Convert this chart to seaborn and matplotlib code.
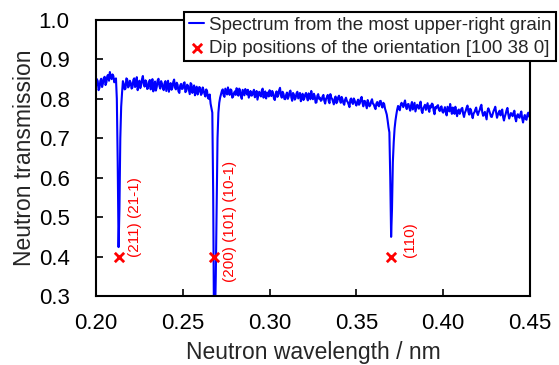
import numpy as np
import pandas as pd
import matplotlib
matplotlib.use("Agg")
import matplotlib.pyplot as plt
import seaborn as sns

# ---- data -------------------------------------------------------------
# samples on the 0.001 nm grid (0.200 ... 0.450)
wl_start = 0.200
wl_step = 0.001
transmission = [
    0.832, 0.845, 0.828, 0.851, 0.839, 0.856, 0.842, 0.861, 0.868, 0.850,  # 0.200
    0.858, 0.846, 0.800, 0.424, 0.700, 0.815, 0.838, 0.826, 0.849, 0.833,  # 0.210
    0.841, 0.829, 0.852, 0.837, 0.822, 0.846, 0.835, 0.858, 0.831, 0.843,  # 0.220
    0.827, 0.848, 0.836, 0.819, 0.844, 0.830, 0.851, 0.826, 0.839, 0.822,  # 0.230
    0.845, 0.833, 0.818, 0.840, 0.828, 0.849, 0.824, 0.836, 0.815, 0.838,  # 0.240
    0.826, 0.842, 0.820, 0.833, 0.812, 0.837, 0.823, 0.809, 0.831, 0.817,  # 0.250
    0.828, 0.814, 0.822, 0.806, 0.819, 0.800, 0.788, 0.765, 0.200, 0.350,  # 0.260
    0.700, 0.790, 0.812, 0.824, 0.805, 0.818, 0.829, 0.810, 0.822, 0.806,  # 0.270
    0.819, 0.827, 0.808, 0.821, 0.800, 0.816, 0.825, 0.811, 0.803, 0.820,  # 0.280
    0.809, 0.823, 0.814, 0.798, 0.818, 0.806, 0.826, 0.812, 0.801, 0.816,  # 0.290
    0.822, 0.807, 0.815, 0.797, 0.819, 0.809, 0.828, 0.803, 0.813, 0.799,  # 0.300
    0.816, 0.806, 0.821, 0.795, 0.811, 0.802, 0.818, 0.808, 0.794, 0.813,  # 0.310
    0.801, 0.815, 0.796, 0.809, 0.820, 0.799, 0.807, 0.791, 0.812, 0.803,  # 0.320
    0.797, 0.810, 0.788, 0.804, 0.795, 0.812, 0.800, 0.786, 0.806, 0.793,  # 0.330
    0.808, 0.790, 0.799, 0.785, 0.803, 0.792, 0.779, 0.801, 0.787, 0.796,  # 0.340
    0.783, 0.798, 0.789, 0.805, 0.781, 0.794, 0.776, 0.790, 0.784, 0.799,  # 0.350
    0.786, 0.774, 0.792, 0.781, 0.795, 0.778, 0.787, 0.768, 0.745, 0.715,  # 0.360
    0.450, 0.640, 0.725, 0.760, 0.782, 0.771, 0.790, 0.779, 0.796, 0.774,  # 0.370
    0.787, 0.770, 0.792, 0.781, 0.768, 0.785, 0.775, 0.793, 0.764, 0.780,  # 0.380
    0.772, 0.789, 0.767, 0.778, 0.786, 0.761, 0.776, 0.784, 0.769, 0.781,  # 0.390
    0.765, 0.779, 0.758, 0.774, 0.787, 0.762, 0.771, 0.780, 0.756, 0.773,  # 0.400
    0.768, 0.777, 0.754, 0.770, 0.783, 0.760, 0.772, 0.751, 0.766, 0.778,  # 0.410
    0.759, 0.771, 0.785, 0.757, 0.767, 0.748, 0.776, 0.763, 0.754, 0.769,  # 0.420
    0.780, 0.752, 0.766, 0.758, 0.773, 0.745, 0.762, 0.777, 0.750, 0.764,  # 0.430
    0.756, 0.770, 0.743, 0.761, 0.752, 0.768, 0.740, 0.759, 0.747, 0.765,  # 0.440
    0.752,                                                                  # 0.450
]
# samples halfway between (0.2005 ... 0.4495)
transmission_mid = [
    0.850, 0.822, 0.846, 0.830, 0.853, 0.835, 0.858, 0.846, 0.855, 0.862,  # 0.2005
    0.842, 0.852, 0.640, 0.520, 0.780, 0.845, 0.824, 0.852, 0.829, 0.846,  # 0.2105
    0.826, 0.848, 0.830, 0.855, 0.836, 0.827, 0.850, 0.838, 0.847, 0.825,  # 0.2205
    0.842, 0.824, 0.850, 0.834, 0.821, 0.847, 0.833, 0.845, 0.828, 0.840,  # 0.2305
    0.820, 0.846, 0.835, 0.823, 0.843, 0.829, 0.841, 0.819, 0.834, 0.825,  # 0.2405
    0.839, 0.817, 0.836, 0.822, 0.840, 0.815, 0.834, 0.826, 0.811, 0.830,  # 0.2505
    0.810, 0.829, 0.812, 0.824, 0.802, 0.811, 0.776, 0.560, 0.230, 0.530,  # 0.2605
    0.765, 0.803, 0.820, 0.809, 0.826, 0.811, 0.817, 0.824, 0.803, 0.815,  # 0.2705
    0.810, 0.815, 0.826, 0.806, 0.823, 0.809, 0.817, 0.823, 0.812, 0.808,  # 0.2805
    0.818, 0.804, 0.820, 0.808, 0.811, 0.821, 0.803, 0.819, 0.814, 0.806,  # 0.2905
    0.812, 0.820, 0.801, 0.812, 0.805, 0.822, 0.810, 0.818, 0.800, 0.810,  # 0.3005
    0.800, 0.817, 0.804, 0.815, 0.798, 0.814, 0.801, 0.815, 0.805, 0.797,  # 0.3105
    0.811, 0.804, 0.814, 0.799, 0.806, 0.813, 0.790, 0.808, 0.800, 0.795,  # 0.3205
    0.806, 0.795, 0.800, 0.810, 0.789, 0.803, 0.793, 0.801, 0.789, 0.804,  # 0.3305
    0.797, 0.805, 0.789, 0.798, 0.795, 0.786, 0.798, 0.791, 0.801, 0.788,  # 0.3405
    0.793, 0.785, 0.800, 0.790, 0.795, 0.785, 0.797, 0.781, 0.794, 0.788,  # 0.3505
    0.779, 0.788, 0.784, 0.794, 0.783, 0.790, 0.775, 0.760, 0.728, 0.600,  # 0.3605
    0.520, 0.690, 0.745, 0.773, 0.776, 0.784, 0.786, 0.789, 0.781, 0.786,  # 0.3705
    0.777, 0.784, 0.773, 0.790, 0.776, 0.781, 0.786, 0.771, 0.776, 0.785,  # 0.3805
    0.781, 0.774, 0.783, 0.788, 0.770, 0.779, 0.782, 0.773, 0.777, 0.768,  # 0.3905
    0.772, 0.766, 0.780, 0.768, 0.773, 0.778, 0.762, 0.767, 0.770, 0.762,  # 0.4005
    0.775, 0.762, 0.765, 0.778, 0.767, 0.775, 0.759, 0.763, 0.773, 0.765,  # 0.4105
    0.767, 0.780, 0.766, 0.761, 0.758, 0.769, 0.770, 0.755, 0.762, 0.774,  # 0.4205
    0.765, 0.760, 0.770, 0.767, 0.754, 0.755, 0.771, 0.761, 0.757, 0.760,  # 0.4305
    0.765, 0.751, 0.757, 0.754, 0.762, 0.750, 0.752, 0.749, 0.760, 0.756,  # 0.4405
]

dip_wavelength = [0.213, 0.268, 0.370]
dip_transmission = [0.4, 0.4, 0.4]
dip_labels = ["(211) (21-1)", "(200) (101) (10-1)", "(110)"]
label_x = [0.2225, 0.2770, 0.3810]
label_y = [0.400, 0.335, 0.400]

x_ticks = [0.20, 0.25, 0.30, 0.35, 0.40, 0.45]
y_ticks = [0.3, 0.4, 0.5, 0.6, 0.7, 0.8, 0.9, 1.0]

wl_grid = wl_start + wl_step * np.arange(len(transmission))
wl_mid = wl_start + wl_step * (np.arange(len(transmission_mid)) + 0.5)
spec_df = pd.DataFrame({
    "wavelength": np.concatenate([wl_grid, wl_mid]),
    "transmission": np.concatenate([transmission, transmission_mid]),
}).sort_values("wavelength").reset_index(drop=True)
dip_df = pd.DataFrame({"wavelength": dip_wavelength, "transmission": dip_transmission})

# ---- style ------------------------------------------------------------
sns.set_style("ticks")
plt.rcParams["font.family"] = ["Liberation Sans", "DejaVu Sans"]

fig = plt.figure(figsize=(5.59, 3.65), dpi=100)
ax = fig.add_axes([96 / 559, 1 - 296 / 365, (530 - 96) / 559, (296 - 20) / 365])

sns.lineplot(data=spec_df, x="wavelength", y="transmission", ax=ax,
             color="#0000ff", linewidth=1.5, sort=False,
             label="Spectrum from the most upper-right grain")
sns.scatterplot(data=dip_df, x="wavelength", y="transmission", ax=ax,
                marker="x", color="#ff0000", s=45, linewidth=2,
                label="Dip positions of the orientation [100 38 0]", zorder=5)

for lx, ly, txt in zip(label_x, label_y, dip_labels):
    ax.text(lx, ly, txt, rotation=90, color="#ff0000", fontsize=11,
            ha="center", va="bottom")

ax.set_xlim(0.20, 0.45)
ax.set_ylim(0.3, 1.0)
ax.set_xticks(x_ticks)
ax.set_yticks(y_ticks)
ax.set_xticklabels([f"{v:.2f}" for v in x_ticks])
ax.set_yticklabels([f"{v:.1f}" for v in y_ticks])
ax.tick_params(axis="both", direction="in", length=5, width=1.2,
               labelsize=16, colors="black")
ax.tick_params(axis="x", pad=12)
ax.tick_params(axis="y", pad=19)
ax.tick_params(top=False, right=False)
for sp in ax.spines.values():
    sp.set_visible(True)
    sp.set_color("black")
    sp.set_linewidth(1.5)

ax.set_xlabel("Neutron wavelength / nm", fontsize=16.5, labelpad=5)
ax.set_ylabel("Neutron transmission", fontsize=16.5, labelpad=2)

leg = ax.legend(loc="upper right", bbox_to_anchor=(556 / 559, 1 - 12 / 365),
                bbox_transform=fig.transFigure, frameon=True, fancybox=False,
                fontsize=13.5, handlelength=0.8, handletextpad=0.25,
                borderpad=0.25, labelspacing=0.3, borderaxespad=0)
leg.get_frame().set_edgecolor("black")
leg.get_frame().set_linewidth(1.5)
leg.get_frame().set_alpha(1)

fig.savefig("out.png", dpi=100)
